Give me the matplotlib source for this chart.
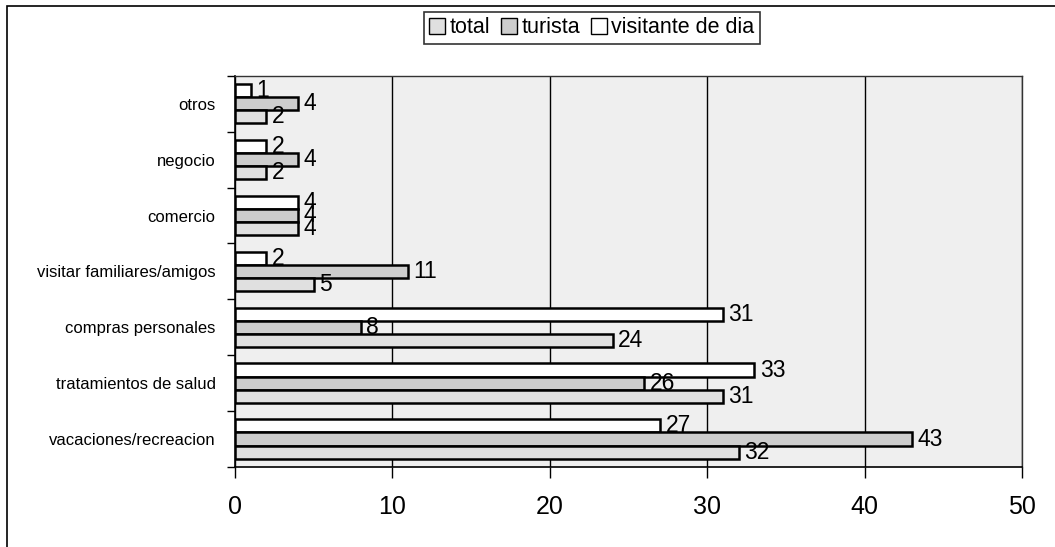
import matplotlib
matplotlib.use("Agg")
import matplotlib.pyplot as plt
import numpy as np
from matplotlib.patches import Patch, Rectangle

plt.rcParams['font.family'] = ['Liberation Sans', 'DejaVu Sans']

# reasons for the trip, top to bottom
categories = ["otros", "negocio", "comercio", "visitar familiares/amigos",
              "compras personales", "tratamientos de salud", "vacaciones/recreacion"]
visitante = [1, 2, 4, 2, 31, 33, 27]
turista = [4, 4, 4, 11, 8, 26, 43]
total = [2, 2, 4, 5, 24, 31, 32]

series = [("visitante de dia", visitante, "white"),
          ("turista", turista, "#cdcdcd"),
          ("total", total, "#e0e0e0")]

fig = plt.figure(figsize=(10.55, 5.47), dpi=100)
ax = fig.add_axes([0.2227, 0.1463, 0.746, 0.715])
ax.set_facecolor("#efefef")

y = np.arange(len(categories))
h = 0.235
for i, (name, vals, col) in enumerate(series):
    pos = y + (i - 1) * h
    bars = ax.barh(pos, vals, height=h, color=col, edgecolor="black",
                   linewidth=1.8, zorder=3)
    for b, v in zip(bars, vals):
        ax.text(v + 0.35, b.get_y() + h / 2, str(v), va="center", ha="left",
                fontsize=16.5, zorder=4)

ax.set_xlim(0, 50)
ax.set_ylim(len(categories) - 0.5, -0.5)
ax.set_xticks([0, 10, 20, 30, 40, 50])
ax.tick_params(axis="x", labelsize=18, direction="out", length=8, width=1, pad=12)
ax.xaxis.grid(True, color="black", linewidth=1, zorder=1)

ax.set_yticks(y)
ax.set_yticklabels(categories, fontsize=12)
ax.tick_params(axis="y", length=0, pad=14)
ax.set_yticks(np.arange(len(categories) + 1) - 0.5, minor=True)
ax.tick_params(axis="y", which="minor", length=6, width=1, direction="out")

for side in ["left", "bottom"]:
    ax.spines[side].set_linewidth(1.2)
for side in ["top", "right"]:
    ax.spines[side].set_linewidth(1.0)
    ax.spines[side].set_color("#333333")

# legend in its own box at the top
handles = [Patch(facecolor="#e0e0e0", edgecolor="black", label="total"),
           Patch(facecolor="#cdcdcd", edgecolor="black", label="turista"),
           Patch(facecolor="white", edgecolor="black", label="visitante de dia")]
leg = fig.legend(handles=handles, loc="center", bbox_to_anchor=(0.5607, 0.949),
                 ncol=3, fontsize=15.5, frameon=True, fancybox=False,
                 handlelength=0.75, handleheight=0.75, handletextpad=0.2,
                 columnspacing=0.5, borderpad=0.25, borderaxespad=0)
leg.get_frame().set_edgecolor("black")
leg.get_frame().set_linewidth(1.2)

# outer chart border
fig.add_artist(Rectangle((7 / 1055, -0.1), 1.2, 1.1 - 6 / 547,
                         transform=fig.transFigure, fill=False,
                         edgecolor="black", linewidth=1.2))

fig.savefig("out.png", dpi=100)
